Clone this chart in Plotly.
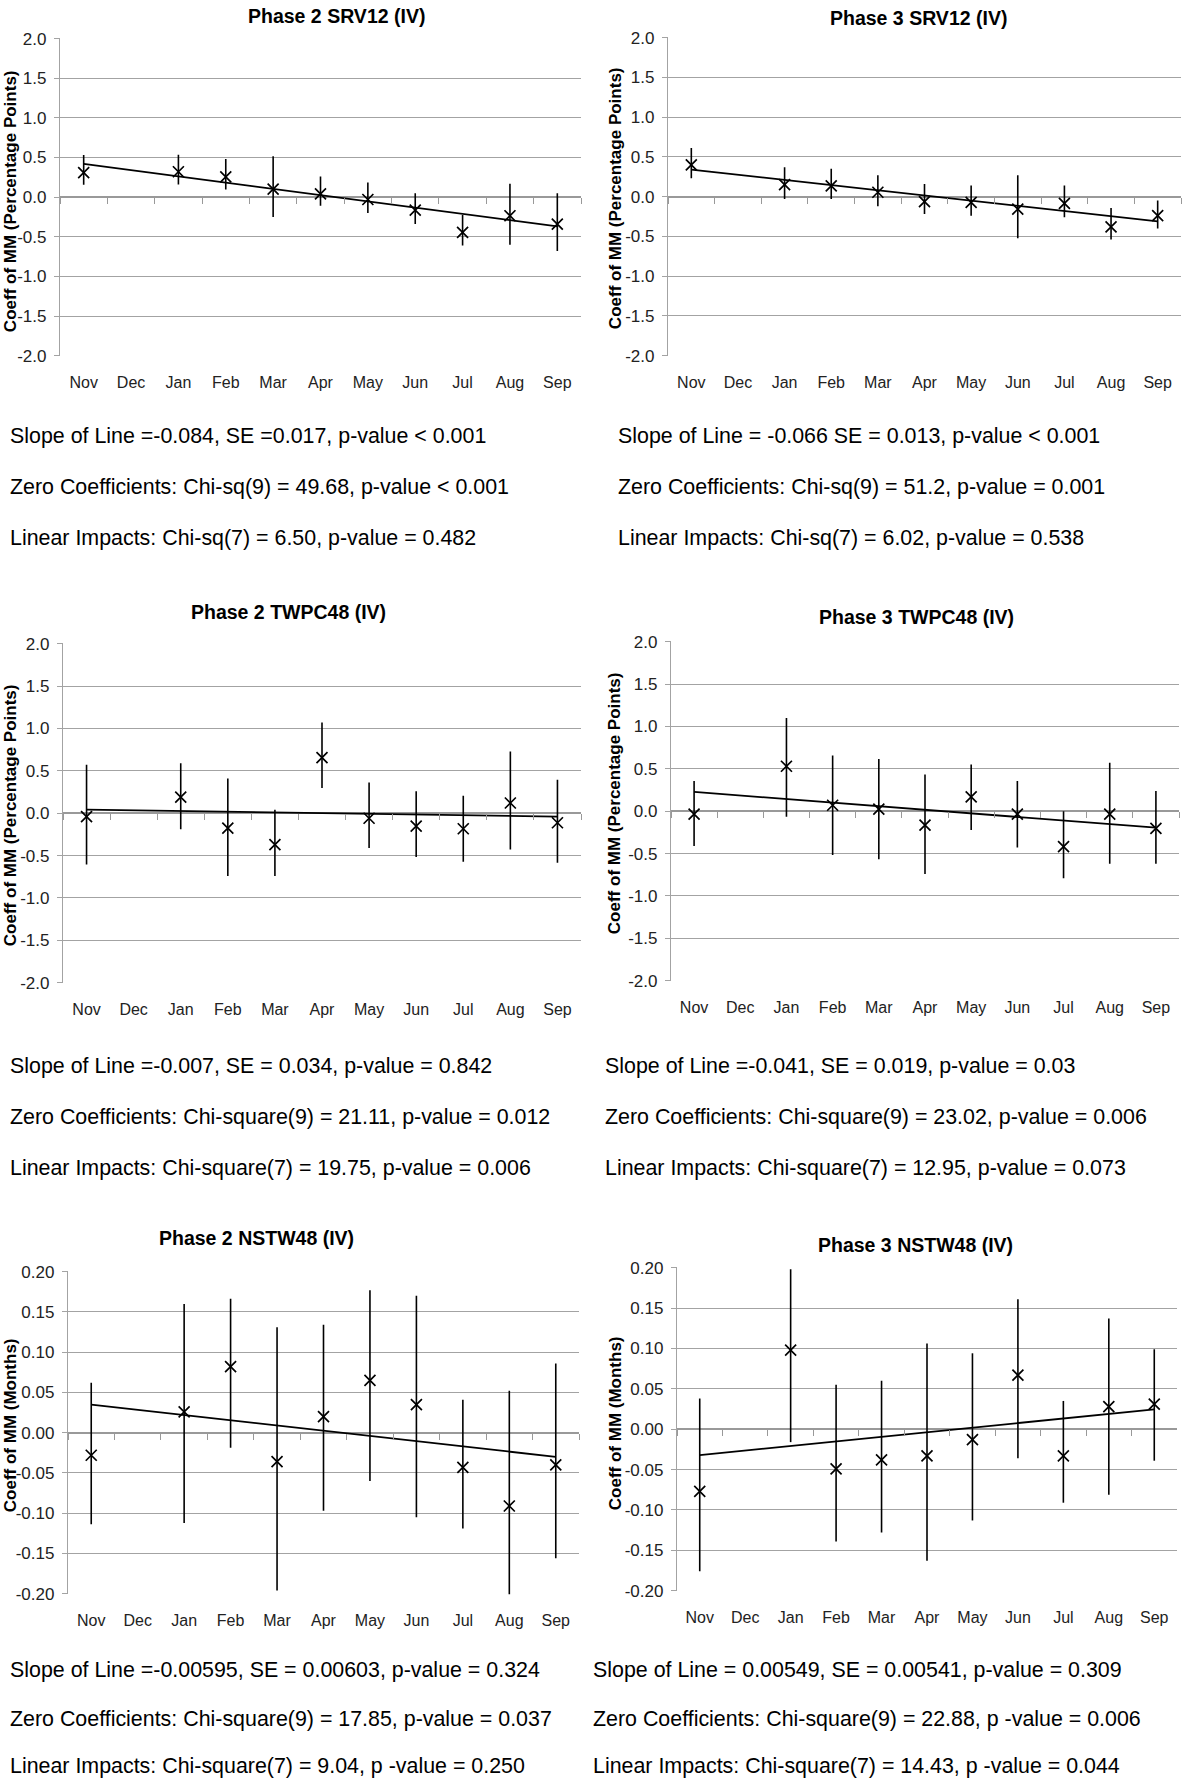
import plotly.graph_objects as go

W, H = 1200, 1778

# ---------------- data ----------------
months = ["Nov", "Dec", "Jan", "Feb", "Mar", "Apr", "May", "Jun", "Jul", "Aug", "Sep"]
obs_months = ["Nov", "Jan", "Feb", "Mar", "Apr", "May", "Jun", "Jul", "Aug", "Sep"]
trend_months = ["Nov", "Sep"]

pp_ticks = [-2.0, -1.5, -1.0, -0.5, 0.0, 0.5, 1.0, 1.5, 2.0]
pp_labels = ["-2.0", "-1.5", "-1.0", "-0.5", "0.0", "0.5", "1.0", "1.5", "2.0"]
mo_ticks = [-0.20, -0.15, -0.10, -0.05, 0.0, 0.05, 0.10, 0.15, 0.20]
mo_labels = ["-0.20", "-0.15", "-0.10", "-0.05", "0.00", "0.05", "0.10", "0.15", "0.20"]

# Phase 2 SRV12
p2_srv12_coef = [0.31, 0.32, 0.256, 0.10, 0.04, -0.03, -0.165, -0.446, -0.235, -0.34]
p2_srv12_upper = [0.53, 0.533, 0.48, 0.517, 0.26, 0.186, 0.05, -0.227, 0.17, 0.05]
p2_srv12_lower = [0.157, 0.16, 0.095, -0.25, -0.11, -0.20, -0.34, -0.61, -0.60, -0.68]
p2_srv12_trend = [0.42, -0.37]

# Phase 3 SRV12
p3_srv12_coef = [0.40, 0.15, 0.135, 0.055, -0.064, -0.072, -0.157, -0.085, -0.38, -0.24]
p3_srv12_upper = [0.61, 0.37, 0.35, 0.27, 0.16, 0.14, 0.27, 0.14, -0.144, -0.05]
p3_srv12_lower = [0.23, -0.03, -0.03, -0.12, -0.22, -0.24, -0.525, -0.26, -0.54, -0.40]
p3_srv12_trend = [0.34, -0.31]

# Phase 2 TWPC48
p2_twpc48_coef = [-0.04, 0.19, -0.176, -0.37, 0.656, -0.06, -0.152, -0.184, 0.12, -0.113]
p2_twpc48_upper = [0.57, 0.59, 0.41, 0.04, 1.07, 0.363, 0.258, 0.207, 0.727, 0.395]
p2_twpc48_lower = [-0.605, -0.19, -0.74, -0.74, 0.297, -0.41, -0.516, -0.574, -0.43, -0.586]
p2_twpc48_trend = [0.043, -0.04]

# Phase 3 TWPC48
p3_twpc48_coef = [-0.035, 0.53, 0.07, 0.023, -0.164, 0.168, -0.035, -0.418, -0.035, -0.203]
p3_twpc48_upper = [0.355, 1.10, 0.656, 0.617, 0.434, 0.55, 0.355, 0.0, 0.57, 0.238]
p3_twpc48_lower = [-0.41, -0.066, -0.516, -0.566, -0.74, -0.223, -0.43, -0.79, -0.62, -0.62]
p3_twpc48_trend = [0.227, -0.195]

# Phase 2 NSTW48
p2_nstw48_coef = [-0.028, 0.026, 0.082, -0.036, 0.020, 0.065, 0.035, -0.043, -0.091, -0.040]
p2_nstw48_upper = [0.062, 0.160, 0.1665, 0.131, 0.134, 0.177, 0.170, 0.041, 0.052, 0.086]
p2_nstw48_lower = [-0.1136, -0.112, -0.0186, -0.196, -0.097, -0.060, -0.105, -0.119, -0.215, -0.156]
p2_nstw48_trend = [0.035, -0.030]

# Phase 3 NSTW48
p3_nstw48_coef = [-0.077, 0.098, -0.049, -0.038, -0.033, -0.013, 0.067, -0.033, 0.028, 0.031]
p3_nstw48_upper = [0.038, 0.198, 0.055, 0.060, 0.106, 0.094, 0.161, 0.035, 0.137, 0.099]
p3_nstw48_lower = [-0.176, -0.016, -0.139, -0.128, -0.163, -0.113, -0.036, -0.091, -0.081, -0.039]
p3_nstw48_trend = [-0.032, 0.0246]

titles = ["Phase 2 SRV12 (IV)", "Phase 3 SRV12 (IV)",
          "Phase 2 TWPC48 (IV)", "Phase 3 TWPC48 (IV)",
          "Phase 2 NSTW48 (IV)", "Phase 3 NSTW48 (IV)"]
ytitle_pp = "Coeff of MM (Percentage Points)"
ytitle_mo = "Coeff of MM (Months)"

stats = [
    ["Slope of Line =-0.084, SE =0.017, p-value < 0.001",
     "Zero Coefficients: Chi-sq(9) = 49.68, p-value < 0.001",
     "Linear Impacts: Chi-sq(7) = 6.50, p-value = 0.482"],
    ["Slope of Line = -0.066 SE = 0.013, p-value < 0.001",
     "Zero Coefficients: Chi-sq(9) = 51.2, p-value = 0.001",
     "Linear Impacts: Chi-sq(7) = 6.02, p-value = 0.538"],
    ["Slope of Line =-0.007, SE = 0.034, p-value = 0.842",
     "Zero Coefficients: Chi-square(9) = 21.11, p-value = 0.012",
     "Linear Impacts: Chi-square(7) = 19.75, p-value = 0.006"],
    ["Slope of Line =-0.041, SE = 0.019, p-value = 0.03",
     "Zero Coefficients: Chi-square(9) = 23.02, p-value = 0.006",
     "Linear Impacts: Chi-square(7) = 12.95, p-value = 0.073"],
    ["Slope of Line =-0.00595, SE = 0.00603, p-value = 0.324",
     "Zero Coefficients: Chi-square(9) = 17.85, p-value = 0.037",
     "Linear Impacts: Chi-square(7) = 9.04, p -value = 0.250"],
    ["Slope of Line = 0.00549, SE = 0.00541, p-value = 0.309",
     "Zero Coefficients: Chi-square(9) = 22.88, p -value = 0.006",
     "Linear Impacts: Chi-square(7) = 14.43, p -value = 0.044"],
]

panels = [
    (p2_srv12_coef, p2_srv12_upper, p2_srv12_lower, p2_srv12_trend, "pp"),
    (p3_srv12_coef, p3_srv12_upper, p3_srv12_lower, p3_srv12_trend, "pp"),
    (p2_twpc48_coef, p2_twpc48_upper, p2_twpc48_lower, p2_twpc48_trend, "pp"),
    (p3_twpc48_coef, p3_twpc48_upper, p3_twpc48_lower, p3_twpc48_trend, "pp"),
    (p2_nstw48_coef, p2_nstw48_upper, p2_nstw48_lower, p2_nstw48_trend, "mo"),
    (p3_nstw48_coef, p3_nstw48_upper, p3_nstw48_lower, p3_nstw48_trend, "mo"),
]

# ---------------- layout geometry (pixels) ----------------
# plot area: left, right, top, bottom
boxes = [
    (60, 581, 38, 356),
    (668, 1181, 37, 356),
    (63, 581, 643, 983),
    (671, 1179, 641, 981),
    (68, 579, 1271, 1594),
    (677, 1177, 1267, 1591),
]
title_pos = [(336, 13), (918, 18), (288, 612), (916, 617), (256, 1238), (915, 1245)]
ytitle_pos = [(10, 201), (615, 198), (10, 815), (614, 803), (10, 1425), (615, 1423)]
stats_x = [8, 616, 8, 603, 8, 591]
stats_y = [(436, 487, 538), (436, 487, 538), (1066, 1117, 1168), (1066, 1117, 1168),
           (1670, 1719, 1767), (1670, 1719, 1767)]


def yfix(y):
    # vertical placement calibration for the photographed page
    return min(max(1.0103 * y - 8.98, 7.0), H - 3.0)


def px(x):
    return x / W


def py(y):
    return 1 - yfix(y) / H


FONT = "Liberation Sans, Arial, Helvetica, sans-serif"
GRID = "#a3a3a3"

fig = go.Figure()
layout = {}
annotations = []

for i, (coef, upper, lower, trend, kind) in enumerate(panels):
    n = i + 1
    ov = i + 7
    xa = "x" if n == 1 else f"x{n}"
    ya = "y" if n == 1 else f"y{n}"
    xo = f"x{ov}"
    l, r, t, b = boxes[i]
    if kind == "pp":
        tv, tt, lo, hi = pp_ticks, pp_labels, -2.0, 2.0
    else:
        tv, tt, lo, hi = mo_ticks, mo_labels, -0.20, 0.20
    pad = (hi - lo) * 0.0015

    # helpers registering every month category on both axes
    fig.add_trace(go.Scatter(x=months, y=[0] * len(months), mode="markers",
                             marker=dict(size=1, opacity=0), hoverinfo="skip",
                             showlegend=False, xaxis=xa, yaxis=ya))
    fig.add_trace(go.Scatter(x=months, y=[0] * len(months), mode="markers",
                             marker=dict(size=1, opacity=0), hoverinfo="skip",
                             showlegend=False, xaxis=xo, yaxis=ya))

    # coefficients with confidence intervals
    plus = [u - c for u, c in zip(upper, coef)]
    minus = [c - lw for c, lw in zip(coef, lower)]
    fig.add_trace(go.Scatter(
        x=obs_months, y=coef, mode="markers",
        marker=dict(symbol="x-thin", size=11, line=dict(width=1.7, color="black"), color="black"),
        error_y=dict(type="data", symmetric=False, array=plus, arrayminus=minus,
                     color="black", thickness=1.6, width=0),
        showlegend=False, xaxis=xa, yaxis=ya))

    # linear trend
    fig.add_trace(go.Scatter(x=trend_months, y=trend, mode="lines",
                             line=dict(color="black", width=1.8),
                             showlegend=False, xaxis=xa, yaxis=ya))

    xkey = "xaxis" if n == 1 else f"xaxis{n}"
    ykey = "yaxis" if n == 1 else f"yaxis{n}"
    layout[xkey] = dict(
        domain=[px(l), px(r)], anchor=ya, type="category",
        categoryorder="array", categoryarray=months, range=[-0.5, 10.5],
        showgrid=False, showline=False, zeroline=False, ticks="",
        ticklabelstandoff=15, tickfont=dict(size=16, color="#222222", family=FONT),
        fixedrange=True)
    layout[ykey] = dict(
        domain=[py(b), py(t)], anchor=xa, range=[lo - pad, hi + pad],
        tickvals=tv, ticktext=tt, showgrid=True, gridcolor=GRID, gridwidth=1.3,
        showline=True, linecolor=GRID, linewidth=1.3,
        ticks="outside", ticklen=5, tickcolor=GRID, tickwidth=1.3,
        zeroline=True, zerolinecolor="#999999", zerolinewidth=2.2,
        ticklabelstandoff=4, tickfont=dict(size=17, color="#222222", family=FONT),
        fixedrange=True)
    # overlay axis drawing the boundary tick marks along the zero line
    zero_frac = (0 - (lo - pad)) / ((hi + pad) - (lo - pad))
    ypos = py(b) + zero_frac * (py(t) - py(b))
    layout[f"xaxis{ov}"] = dict(
        overlaying=xa, anchor="free", position=ypos, side="bottom",
        type="category", categoryorder="array", categoryarray=months,
        range=[-0.5, 10.5], showgrid=False, showline=False, zeroline=False,
        ticks="outside", tickson="boundaries", ticklen=6, tickcolor="#999999",
        tickwidth=1.3, showticklabels=False, fixedrange=True)

    # panel title
    tx, ty = title_pos[i]
    annotations.append(dict(text=f"<b>{titles[i]}</b>", x=px(tx), y=py(ty), xref="paper",
                            yref="paper", xanchor="center", yanchor="middle", showarrow=False,
                            font=dict(size=19.5, color="black", family=FONT)))
    # y axis title
    yx, yy = ytitle_pos[i]
    annotations.append(dict(text=f"<b>{ytitle_pp if kind == 'pp' else ytitle_mo}</b>",
                            x=px(yx), y=py(yy), xref="paper", yref="paper",
                            xanchor="center", yanchor="middle", textangle=-90,
                            showarrow=False, font=dict(size=17, color="black", family=FONT)))
    # statistics text
    for line, sy in zip(stats[i], stats_y[i]):
        annotations.append(dict(text=line, x=px(stats_x[i]), y=py(sy), xref="paper",
                                yref="paper", xanchor="left", yanchor="middle",
                                showarrow=False, font=dict(size=21.4, color="black", family=FONT)))

fig.update_layout(**layout)
fig.update_layout(
    width=W, height=H, margin=dict(l=0, r=0, t=0, b=0),
    paper_bgcolor="white", plot_bgcolor="white", showlegend=False,
    font=dict(family=FONT, color="black"), annotations=annotations)

# remove the page's default body margin so the figure fills the window exactly
fig.write_html("out.html", config={"displayModeBar": False},
               post_script="document.body.style.margin='0';document.body.style.padding='0';")
